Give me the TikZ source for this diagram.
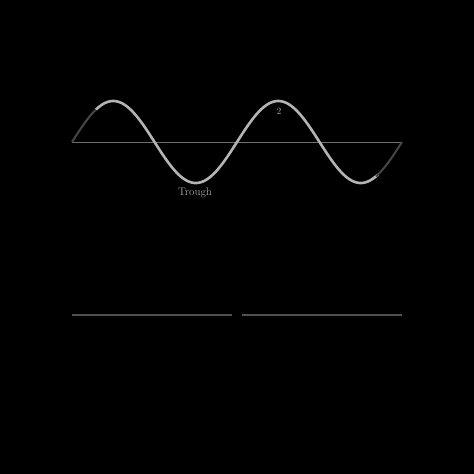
\documentclass[tikz,border=0pt]{standalone}
\begin{document}
\begin{tikzpicture}[x=1pt,y=-1pt,
  wave/.style={line width=2.6pt,color={rgb,255:red,180;green,180;blue,180}},
  wavefade/.style={line width=2pt,color={rgb,255:red,70;green,70;blue,70}},
  axisline/.style={line width=1pt,color={rgb,255:red,110;green,110;blue,110}},
  baseline/.style={line width=1.2pt,color={rgb,255:red,80;green,80;blue,80}},
  lbl/.style={text={rgb,255:red,170;green,170;blue,170},inner sep=0pt}]
\fill[black] (0,0) rectangle (474,474);
\useasboundingbox (0,0) rectangle (474,474);
% axis
\coordinate (axL) at (72,142);
\coordinate (axR) at (402,142);
\draw[axisline] (axL) -- (axR);
% wave
\draw[wavefade] plot[domain=0:26,samples=30] ({72+\x},{142-41*sin(\x/165*360)});
\draw[wave] plot[domain=24:306,samples=300] ({72+\x},{142-41*sin(\x/165*360)});
\draw[wavefade] plot[domain=304:330,samples=30] ({72+\x},{142-41*sin(\x/165*360)});
% labels
\node[lbl,font=\fontsize{9.5}{11}\selectfont] (two) at (279,111) {2};
\node[lbl,font=\fontsize{11}{13}\selectfont] (trough) at (195,193) {Trough};
% bottom line
\coordinate (b1) at (72,315);
\coordinate (b2) at (232,315);
\coordinate (b3) at (242,315);
\coordinate (b4) at (402,315);
\draw[baseline] (b1) -- (b2);
\draw[baseline] (b3) -- (b4);
\end{tikzpicture}
\end{document}
